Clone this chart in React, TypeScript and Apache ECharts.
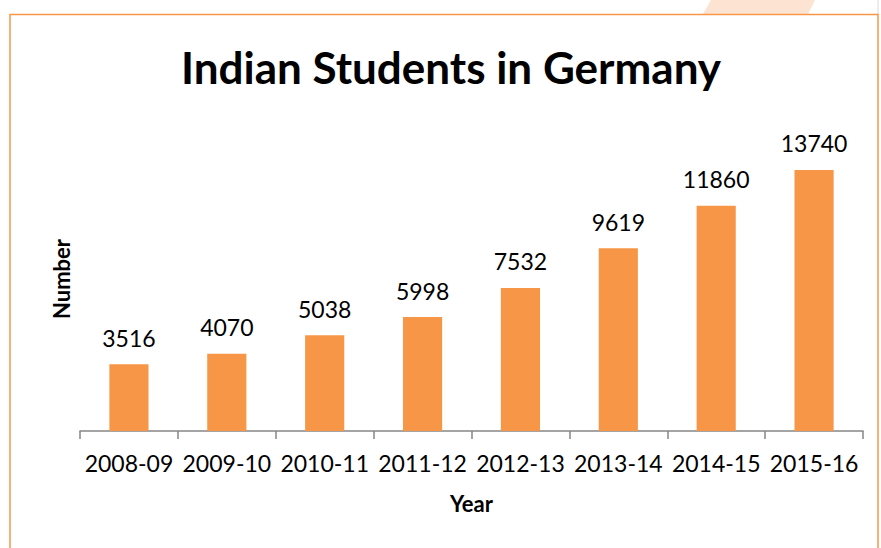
import React, { useEffect, useRef } from "react";
import * as echarts from "echarts";

const categories = ["2008-09", "2009-10", "2010-11", "2011-12", "2012-13", "2013-14", "2014-15", "2015-16"];
const students = [3516, 4070, 5038, 5998, 7532, 9619, 11860, 13740];
const titleText = "Indian Students in Germany";
const xName = "Year";
const yName = "Number";

const ORANGE = "#F79646";
const FONT = "Lato, 'Noto Sans', sans-serif";

export default function App() {
  const ref = useRef<HTMLDivElement>(null);
  useEffect(() => {
    if (!ref.current) return;
    const chart = echarts.init(ref.current, null, { renderer: "svg" });
    chart.setOption({
      animation: false,
      backgroundColor: "#ffffff",
      grid: { left: 80, right: 18, top: 127, bottom: 117, containLabel: false },
      xAxis: {
        type: "category",
        data: categories,
        name: xName,
        nameLocation: "middle",
        nameGap: 61,
        nameTextStyle: { fontFamily: FONT, fontWeight: "bold", fontSize: 22, color: "#000" },
        axisLine: { lineStyle: { color: "#868686", width: 1.5 } },
        axisTick: { show: true, length: 8, alignWithLabel: false, lineStyle: { color: "#868686", width: 1.5 } },
        axisLabel: { fontFamily: FONT, fontSize: 23, color: "#000", margin: 20, interval: 0 },
      },
      yAxis: {
        type: "value",
        min: 0,
        max: 16000,
        name: yName,
        nameLocation: "middle",
        nameGap: 8,
        nameRotate: 90,
        nameTextStyle: { fontFamily: FONT, fontWeight: "bold", fontSize: 22, color: "#000" },
        axisLine: { show: false },
        axisTick: { show: false },
        axisLabel: { show: false },
        splitLine: { show: false },
      },
      series: [
        {
          type: "bar",
          data: students,
          barWidth: "40%",
          itemStyle: { color: ORANGE },
          label: {
            show: true,
            position: "top",
            distance: 15,
            fontFamily: FONT,
            fontSize: 23,
            color: "#000",
          },
        },
      ],
      graphic: [
        {
          type: "polygon",
          shape: { points: [[703, 14], [711, 0], [815, 0], [808, 14]] },
          style: { fill: "#FDE4D2" },
          silent: true,
        },
        {
          type: "line",
          shape: { x1: 878, y1: 0, x2: 878, y2: 14 },
          style: { stroke: "#d9d9d9", lineWidth: 1 },
          silent: true,
        },
        {
          type: "rect",
          shape: { x: 10, y: 14.5, width: 868, height: 560 },
          style: { fill: "none", stroke: ORANGE, lineWidth: 1.5 },
          silent: true,
        },
        {
          type: "text",
          x: 451,
          y: 67,
          style: {
            text: titleText,
            font: `bold 44px ${FONT}`,
            fill: "#000",
            textAlign: "center",
            textVerticalAlign: "middle",
          },
        },
      ],
    });
    return () => chart.dispose();
  }, []);
  return <div ref={ref} style={{ position: "fixed", left: 0, top: 0, width: 881, height: 548 }} />;
}
